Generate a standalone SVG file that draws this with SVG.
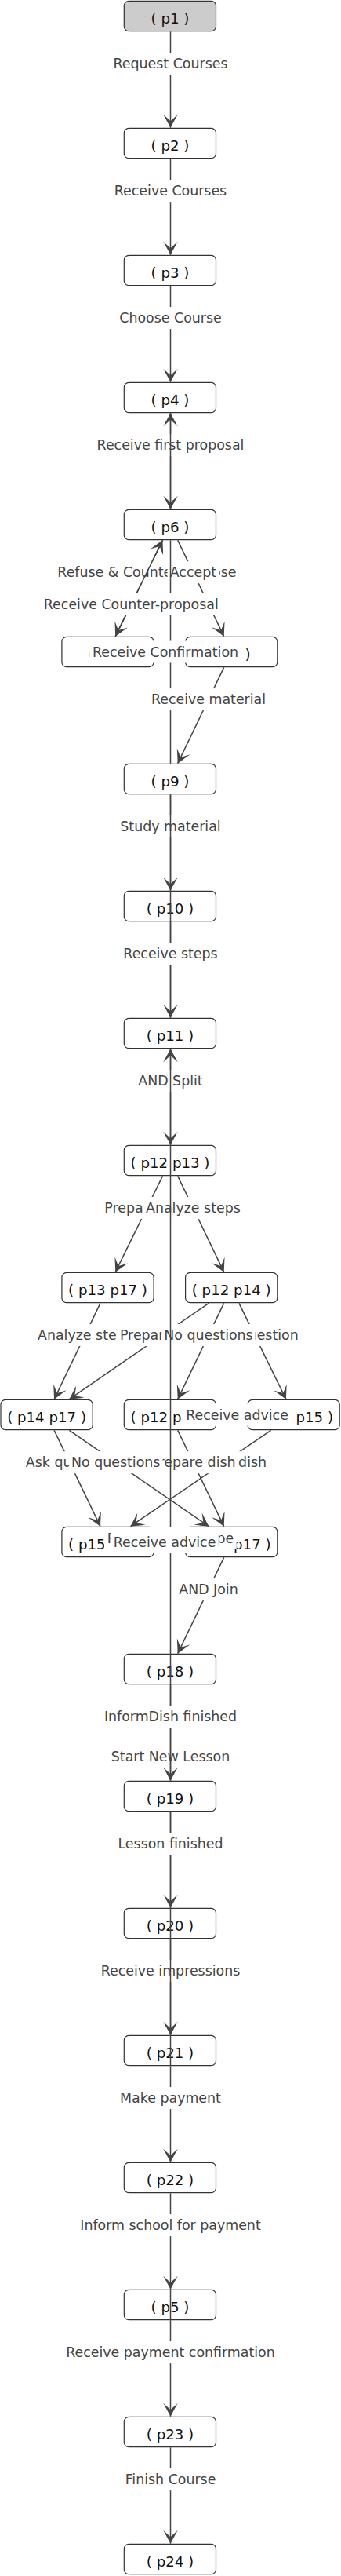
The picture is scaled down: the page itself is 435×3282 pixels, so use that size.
<svg xmlns="http://www.w3.org/2000/svg" width="435" height="3282" viewBox="0 0 435 3282">
<defs>
<style>
.node rect{fill:#fff;stroke:#333;stroke-width:1.2}
#p1 rect{fill:#ccc}
.node text{font-family:"DejaVu Sans","Liberation Sans",sans-serif;font-size:18.2px;fill:#111;text-anchor:middle}
.ln{stroke:#444;stroke-width:1.5;fill:none}
.ar{marker-end:url(#arr)}
.lb rect{fill:#fff}
.lb text{font-family:"DejaVu Sans","Liberation Sans",sans-serif;font-size:17.4px;fill:#444;text-anchor:middle}
</style>
<marker id="arr" viewBox="-18 -10 19 20" refX="0" refY="0" markerWidth="19" markerHeight="20" markerUnits="userSpaceOnUse" orient="auto"><path d="M0,0 L-17,-9.2 L-8.5,0 L-17,9.2 Z" fill="#444"/></marker>
</defs>
<rect width="435" height="3282" fill="#fff"/>
<g id="nodes">
<g id="p1" class="node"><rect x="158.3" y="1.3" width="117.2" height="38.4" rx="6"/><text x="217" y="29.5">( p1 )</text></g>
<g id="p2" class="node"><rect x="158.3" y="163.3" width="117.2" height="38.4" rx="6"/><text x="217" y="191.5">( p2 )</text></g>
<g id="p3" class="node"><rect x="158.3" y="325.3" width="117.2" height="38.4" rx="6"/><text x="217" y="353.5">( p3 )</text></g>
<g id="p4" class="node"><rect x="158.3" y="487.3" width="117.2" height="38.4" rx="6"/><text x="217" y="515.5">( p4 )</text></g>
<g id="p6" class="node"><rect x="158.3" y="649.3" width="117.2" height="38.4" rx="6"/><text x="217" y="677.5">( p6 )</text></g>
<g id="p7" class="node"><rect x="78.9" y="811.3" width="117.2" height="38.4" rx="6"/><text x="137.5" y="839.5">( p7 )</text></g>
<g id="p8" class="node"><rect x="236.6" y="811.3" width="117.2" height="38.4" rx="6"/><text x="295.2" y="839.5">( p8 )</text></g>
<g id="p9" class="node"><rect x="158.3" y="973.3" width="117.2" height="38.4" rx="6"/><text x="217" y="1001.5">( p9 )</text></g>
<g id="p10" class="node"><rect x="158.3" y="1135.3" width="117.2" height="38.4" rx="6"/><text x="217" y="1163.5">( p10 )</text></g>
<g id="p11" class="node"><rect x="158.3" y="1297.3" width="117.2" height="38.4" rx="6"/><text x="217" y="1325.5">( p11 )</text></g>
<g id="p12p13" class="node"><rect x="158.3" y="1459.3" width="117.2" height="38.4" rx="6"/><text x="217" y="1487.5">( p12 p13 )</text></g>
<g id="p13p17" class="node"><rect x="78.9" y="1621.3" width="117.2" height="38.4" rx="6"/><text x="137.5" y="1649.5">( p13 p17 )</text></g>
<g id="p12p14" class="node"><rect x="236.6" y="1621.3" width="117.2" height="38.4" rx="6"/><text x="295.2" y="1649.5">( p12 p14 )</text></g>
<g id="p14p17" class="node"><rect x="1" y="1783.3" width="117.2" height="38.4" rx="6"/><text x="59.6" y="1811.5">( p14 p17 )</text></g>
<g id="p12p16" class="node"><rect x="158.3" y="1783.3" width="117.2" height="38.4" rx="6"/><text x="217" y="1811.5">( p12 p16 )</text></g>
<g id="p12p15" class="node"><rect x="316" y="1783.3" width="117.2" height="38.4" rx="6"/><text x="374.6" y="1811.5">( p12 p15 )</text></g>
<g id="p15p17" class="node"><rect x="78.9" y="1945.3" width="117.2" height="38.4" rx="6"/><text x="137.5" y="1973.5">( p15 p17 )</text></g>
<g id="p16p17" class="node"><rect x="236.6" y="1945.3" width="117.2" height="38.4" rx="6"/><text x="295.2" y="1973.5">( p16 p17 )</text></g>
<g id="p18" class="node"><rect x="158.3" y="2107.3" width="117.2" height="38.4" rx="6"/><text x="217" y="2135.5">( p18 )</text></g>
<g id="p19" class="node"><rect x="158.3" y="2269.3" width="117.2" height="38.4" rx="6"/><text x="217" y="2297.5">( p19 )</text></g>
<g id="p20" class="node"><rect x="158.3" y="2431.3" width="117.2" height="38.4" rx="6"/><text x="217" y="2459.5">( p20 )</text></g>
<g id="p21" class="node"><rect x="158.3" y="2593.3" width="117.2" height="38.4" rx="6"/><text x="217" y="2621.5">( p21 )</text></g>
<g id="p22" class="node"><rect x="158.3" y="2755.3" width="117.2" height="38.4" rx="6"/><text x="217" y="2783.5">( p22 )</text></g>
<g id="p5" class="node"><rect x="158.3" y="2917.3" width="117.2" height="38.4" rx="6"/><text x="217" y="2945.5">( p5 )</text></g>
<g id="p23" class="node"><rect x="158.3" y="3079.3" width="117.2" height="38.4" rx="6"/><text x="217" y="3107.5">( p23 )</text></g>
<g id="p24" class="node"><rect x="158.3" y="3241.3" width="117.2" height="38.4" rx="6"/><text x="217" y="3269.5">( p24 )</text></g>
</g>
<g id="connectors">
<g id="e1"><line class="ln ar" x1="217.5" y1="40.3" x2="217.5" y2="162.7"/><g class="lb"><rect x="141.1" y="67.1" width="152.8" height="28"/><text x="217.5" y="87.4">Request Courses</text></g></g>
<g id="e2"><line class="ln ar" x1="217.5" y1="202.3" x2="217.5" y2="324.7"/><g class="lb"><rect x="142.4" y="229.1" width="150.2" height="28"/><text x="217.5" y="249.4">Receive Courses</text></g></g>
<g id="e3"><line class="ln ar" x1="217.5" y1="364.3" x2="217.5" y2="486.7"/><g class="lb"><rect x="149.25" y="391.1" width="136.5" height="28"/><text x="217.5" y="411.4">Choose Course</text></g></g>
<g id="e4"><line class="ln ar" x1="217.5" y1="526.3" x2="217.5" y2="648.7"/><g class="lb"><rect x="119.95" y="553.1" width="195.1" height="28"/><text x="217.5" y="573.4">Receive first proposal</text></g></g>
<g id="e5"><line class="ln ar" x1="207.46" y1="688.3" x2="147.24" y2="810.7"/><g class="lb"><rect x="69.15" y="715.1" width="236.5" height="28"/><text x="187.4" y="735.4">Refuse &amp; Counter-propose</text></g></g>
<g id="e6"><line class="ln ar" x1="226.73" y1="688.3" x2="285.67" y2="810.7"/><g class="lb"><rect x="213.6" y="715.1" width="65.6" height="28"/><text x="246.4" y="735.4">Accept</text></g></g>
<g id="e10"><line class="ln ar" x1="217.5" y1="1012.3" x2="217.5" y2="1134.7"/><g class="lb"><rect x="150.3" y="1039.1" width="134.4" height="28"/><text x="217.5" y="1059.4">Study material</text></g></g>
<g id="e12"><line class="ln ar" x1="217.5" y1="1336.3" x2="217.5" y2="1458.7"/><g class="lb"><rect x="173.3" y="1363.1" width="88.4" height="28"/><text x="217.5" y="1383.4">AND Split</text></g></g>
<g id="e13"><line class="ln ar" x1="207.46" y1="1498.3" x2="147.24" y2="1620.7"/><g class="lb"><rect x="129.7" y="1525.1" width="115.4" height="28"/><text x="187.4" y="1545.4">Prepare dish</text></g></g>
<g id="e14"><line class="ln ar" x1="226.73" y1="1498.3" x2="285.67" y2="1620.7"/><g class="lb"><rect x="183" y="1525.1" width="126.8" height="28"/><text x="246.4" y="1545.4">Analyze steps</text></g></g>
<g id="e15"><line class="ln ar" x1="127.98" y1="1660.3" x2="69.12" y2="1782.7"/><g class="lb"><rect x="45" y="1687.1" width="126.8" height="28"/><text x="108.4" y="1707.4">Analyze steps</text></g></g>
<g id="e16"><line class="ln ar" x1="266.41" y1="1660.3" x2="88.39" y2="1782.7"/><g class="lb"><rect x="149.4" y="1687.1" width="115.4" height="28"/><text x="207.1" y="1707.4">Prepare dish</text></g></g>
<g id="e18"><line class="ln ar" x1="304.9" y1="1660.3" x2="364.9" y2="1782.7"/><g class="lb"><rect x="266" y="1687.1" width="117.8" height="28"/><text x="324.9" y="1707.4">Ask question</text></g></g>
<g id="e17"><line class="ln ar" x1="285.67" y1="1660.3" x2="226.73" y2="1782.7"/><g class="lb"><rect x="206.3" y="1687.1" width="119.4" height="28"/><text x="266" y="1707.4">No questions</text></g></g>
<g id="e23"><line class="ln ar" x1="345.62" y1="1822.3" x2="166.48" y2="1944.7"/><g class="lb"><rect x="228.2" y="1849.1" width="115.4" height="28"/><text x="285.9" y="1869.4">Prepare dish</text></g></g>
<g id="e22"><line class="ln ar" x1="226.73" y1="1822.3" x2="285.67" y2="1944.7"/><g class="lb"><rect x="188.7" y="1849.1" width="115.4" height="28"/><text x="246.4" y="1869.4">Prepare dish</text></g></g>
<g id="e20"><line class="ln ar" x1="69.12" y1="1822.3" x2="127.98" y2="1944.7"/><g class="lb"><rect x="29.8" y="1849.1" width="117.8" height="28"/><text x="88.7" y="1869.4">Ask question</text></g></g>
<g id="e21"><line class="ln ar" x1="88.39" y1="1822.3" x2="266.41" y2="1944.7"/><g class="lb"><rect x="88" y="1849.1" width="119.4" height="28"/><text x="147.7" y="1869.4">No questions</text></g></g>
<g id="e25"><line class="ln ar" x1="285.67" y1="1984.3" x2="226.73" y2="2106.7"/><g class="lb"><rect x="225.25" y="2011.1" width="81.5" height="28"/><text x="266" y="2031.4">AND Join</text></g></g>
<g id="e27" class="lb"><rect x="138.65" y="2223.5" width="157.7" height="28"/><text x="217.5" y="2243.8">Start New Lesson</text></g>
<g id="e29"><line class="ln ar" x1="217.5" y1="2470.3" x2="217.5" y2="2592.7"/><g class="lb"><rect x="125.1" y="2497.1" width="184.8" height="28"/><text x="217.5" y="2517.4">Receive impressions</text></g></g>
<g id="long">
<line class="ln ar" x1="217.5" y1="648.7" x2="217.5" y2="526.3"/>
<path class="ln" d="M217.5,688.3V972.7M217.5,1012.3V1296.7"/>
<line class="ln ar" x1="217.5" y1="2268.7" x2="217.5" y2="1336.3"/>
<path class="ln" d="M217.5,2308.3V2632.3M217.5,2916.7V2956.3"/>
</g>
<g id="e7"><line class="ln ar" x1="147.24" y1="810.7" x2="207.46" y2="688.3"/><g class="lb"><rect x="51.6" y="755.9" width="231.4" height="28"/><text x="167.3" y="776.2">Receive Counter-proposal</text></g></g>
<g id="e8"><line class="ln ar" x1="196.5" y1="830.5" x2="236.2" y2="830.5"/><g class="lb"><rect x="114.35" y="816.5" width="193.3" height="28"/><text x="211" y="836.8">Receive Confirmation</text></g></g>
<g id="e9"><line class="ln ar" x1="285.67" y1="850.3" x2="226.73" y2="972.7"/><g class="lb"><rect x="189.45" y="877.1" width="153.1" height="28"/><text x="266" y="897.4">Receive material</text></g></g>
<g id="e11"><line class="ln ar" x1="217.5" y1="1174.3" x2="217.5" y2="1296.7"/><g class="lb"><rect x="153.95" y="1201.1" width="127.1" height="28"/><text x="217.5" y="1221.4">Receive steps</text></g></g>
<g id="e19"><line class="ln ar" x1="315.6" y1="1802.5" x2="276.2" y2="1802.5"/><g class="lb"><rect x="233.7" y="1788.5" width="137.6" height="28"/><text x="302.5" y="1808.8">Receive advice</text></g></g>
<g id="e34" class="lb"><rect x="133.2" y="1946" width="168.5" height="28"/><text x="217.5" y="1966.3">Receive the recipe</text></g>
<g id="e24"><line class="ln ar" x1="196.5" y1="1964.5" x2="236.2" y2="1964.5"/><g class="lb"><rect x="141.2" y="1950.5" width="137.6" height="28"/><text x="210" y="1970.8">Receive advice</text></g></g>
<g id="e26"><line class="ln ar" x1="217.5" y1="2146.3" x2="217.5" y2="2268.7"/><g class="lb"><rect x="130.75" y="2173.1" width="173.5" height="28"/><text x="217.5" y="2193.4">InformDish finished</text></g></g>
<g id="e28"><line class="ln ar" x1="217.5" y1="2308.3" x2="217.5" y2="2430.7"/><g class="lb"><rect x="147.3" y="2335.1" width="140.4" height="28"/><text x="217.5" y="2355.4">Lesson finished</text></g></g>
<g id="e30"><line class="ln ar" x1="217.5" y1="2632.3" x2="217.5" y2="2754.7"/><g class="lb"><rect x="149.75" y="2659.1" width="135.5" height="28"/><text x="217.5" y="2679.4">Make payment</text></g></g>
<g id="e31"><line class="ln ar" x1="217.5" y1="2794.3" x2="217.5" y2="2916.7"/><g class="lb"><rect x="99.05" y="2821.1" width="236.9" height="28"/><text x="217.5" y="2841.4">Inform school for payment</text></g></g>
<g id="e32"><line class="ln ar" x1="217.5" y1="2956.3" x2="217.5" y2="3078.7"/><g class="lb"><rect x="80.6" y="2983.1" width="273.8" height="28"/><text x="217.5" y="3003.4">Receive payment confirmation</text></g></g>
<g id="e33"><line class="ln ar" x1="217.5" y1="3118.3" x2="217.5" y2="3240.7"/><g class="lb"><rect x="155.95" y="3145.1" width="123.1" height="28"/><text x="217.5" y="3165.4">Finish Course</text></g></g>
</g>
</svg>
